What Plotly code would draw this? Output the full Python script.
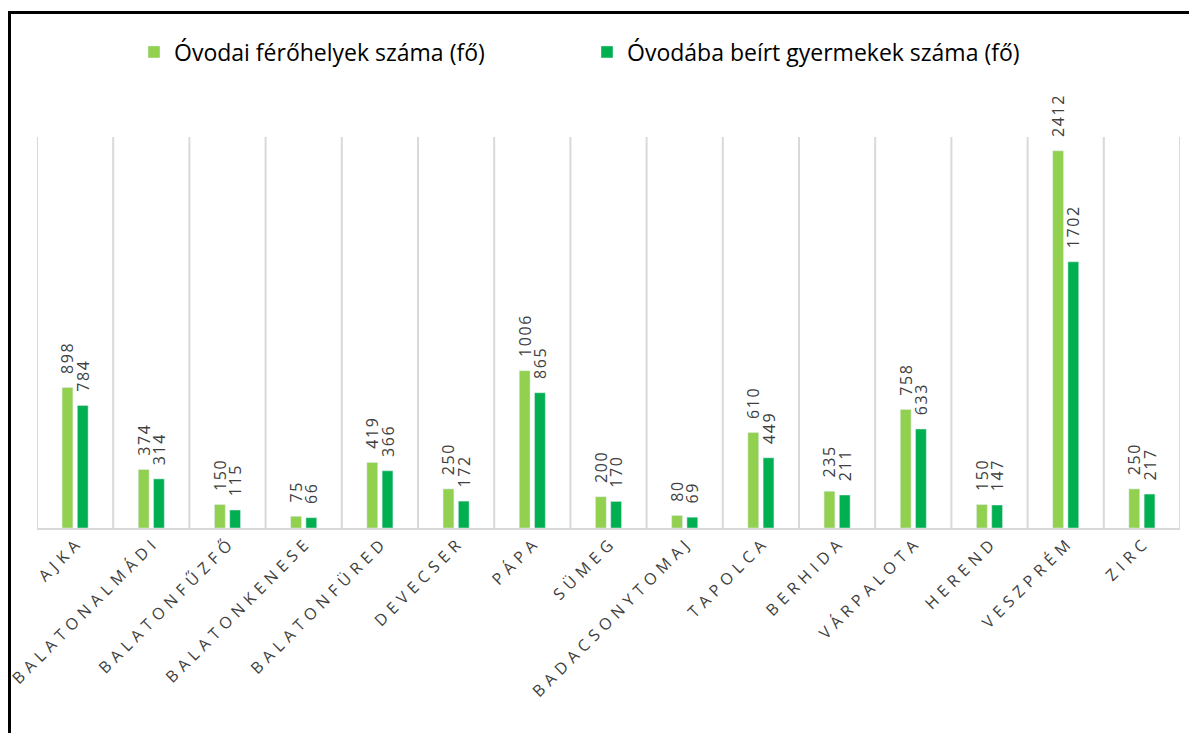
import plotly.graph_objects as go

categories = ["AJKA", "BALATONALMÁDI", "BALATONFŰZFŐ", "BALATONKENESE", "BALATONFÜRED",
              "DEVECSER", "PÁPA", "SÜMEG", "BADACSONYTOMAJ", "TAPOLCA", "BERHIDA",
              "VÁRPALOTA", "HEREND", "VESZPRÉM", "ZIRC"]
ferohely = [898, 374, 150, 75, 419, 250, 1006, 200, 80, 610, 235, 758, 150, 2412, 250]
beirt = [784, 314, 115, 66, 366, 172, 865, 170, 69, 449, 211, 633, 147, 1702, 217]
series_names = ["Óvodai férőhelyek száma (fő)", "Óvodába beírt gyermekek száma (fő)"]


def spaced(s, sep):
    return sep.join(list(s))


tick_text = [spaced(c, "\u2004") for c in categories]
LABEL_PAD = "\u2002\u2009"
lab1 = [LABEL_PAD + spaced(str(v), "\u200a") for v in ferohely]
lab2 = [LABEL_PAD + spaced(str(v), "\u200a") for v in beirt]

FONT = "Open Sans, Noto Sans, sans-serif"
W, H = 1189, 725
L, R, T, B = 29, 17, 129, 205
PW = W - L - R
PH = H - T - B

fig = go.Figure()
fig.add_trace(go.Bar(x=categories, y=ferohely, name=series_names[0], marker_color="#92D050",
                     text=lab1, textposition="outside", textangle=-90, constraintext="none",
                     textfont=dict(size=16, color="#404040", family=FONT), cliponaxis=False))
fig.add_trace(go.Bar(x=categories, y=beirt, name=series_names[1], marker_color="#00B050",
                     text=lab2, textposition="outside", textangle=-90, constraintext="none",
                     textfont=dict(size=16, color="#404040", family=FONT), cliponaxis=False))

n = len(categories)
for i in range(n + 1):
    fig.add_shape(type="line", xref="x", yref="y", x0=i - 0.5, x1=i - 0.5, y0=0, y1=2500,
                  line=dict(color="#D9D9D9", width=2), layer="below")

fig.add_shape(type="rect", xref="paper", yref="paper",
              x0=(1.5 - L) / PW, x1=(W + 20 - L) / PW,
              y0=-(H + 20 - T - PH) / PH, y1=(H - B - 4.5) / PH,
              line=dict(color="black", width=3), fillcolor="rgba(0,0,0,0)")

fig.update_layout(
    width=W, height=H,
    margin=dict(l=L, r=R, t=T, b=B, autoexpand=False),
    plot_bgcolor="white", paper_bgcolor="white",
    barmode="group", bargap=0.6, bargroupgap=0.29,
    uniformtext=dict(minsize=16, mode="show"),
    showlegend=True,
    legend=dict(orientation="h", x=(126 - L) / PW, xanchor="left", y=(PH + T - 44) / PH, yanchor="middle",
                font=dict(size=23, color="#000000", family=FONT), entrywidth=408, entrywidthmode="pixels"),
    font=dict(family=FONT),
    xaxis=dict(tickmode="array", tickvals=categories, ticktext=tick_text, tickangle=-45,
               tickfont=dict(size=16, color="#404040", family=FONT), showgrid=False, automargin=False,
               showline=True, linecolor="#D9D9D9", linewidth=2, ticks="", range=[-0.5, n - 0.5]),
    yaxis=dict(range=[0, 2500], visible=False, showgrid=False, automargin=False),
)

fig.write_html("out.html")
